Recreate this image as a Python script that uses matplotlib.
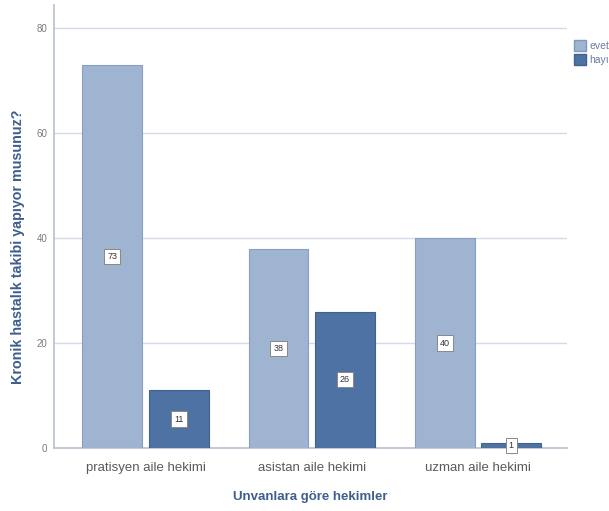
import matplotlib
matplotlib.use("Agg")
import matplotlib.pyplot as plt
import numpy as np
from matplotlib.patches import Patch

plt.rcParams['font.family'] = ['Liberation Sans', 'DejaVu Sans']

categories = ["pratisyen aile hekimi", "asistan aile hekimi", "uzman aile hekimi"]
evet = [73, 38, 40]
hayir = [11, 26, 1]
series_names = ["evet", "hayır"]
yticks = [0, 20, 40, 60, 80]

c_evet = "#9fb4d1"
c_hayir = "#4d72a3"
txt_blue = "#3d5f8c"

fig = plt.figure(figsize=(6.09, 5.11), dpi=100)
ax = fig.add_axes([0.0887, 0.1233, 0.8423, 0.8667])

x = np.arange(len(categories))
w = 0.36
off = 0.2
b1 = ax.bar(x - off, evet, w, color=c_evet, edgecolor="#879fc2", linewidth=0.8, zorder=3)
b2 = ax.bar(x + off, hayir, w, color=c_hayir, edgecolor="#3f6290", linewidth=0.8, zorder=3)

for bars in (b1, b2):
    for r in bars:
        h = r.get_height()
        ax.text(r.get_x() + r.get_width() / 2, h / 2, f"{int(h)}", ha="center", va="center",
                fontsize=6.5, color="#333333", zorder=5,
                bbox=dict(boxstyle="square,pad=0.35", fc="white", ec="#888888", lw=0.7))

ax.set_xlim(-0.55, 2.535)
ax.set_ylim(0, 84.4)
ax.set_yticks(yticks)
ax.set_xticks(x)
ax.set_xticklabels(categories, fontsize=9.5, color="#5a5a5a")
ax.tick_params(axis="y", labelsize=7, colors="#7a7a7a", length=0, pad=5)
ax.tick_params(axis="x", length=0, pad=10)
ax.grid(axis="y", color="#d5dbe6", linewidth=1, zorder=0)
ax.set_axisbelow(True)
for s in ["top", "right"]:
    ax.spines[s].set_visible(False)
ax.spines["left"].set_color("#b7c1d3")
ax.spines["bottom"].set_color("#b7c1d3")
ax.spines["left"].set_linewidth(1.2)
ax.spines["bottom"].set_linewidth(1.2)

ax.set_xlabel("Unvanlara göre hekimler", fontsize=9.5, fontweight="bold", color=txt_blue, labelpad=12)
fig.text(18 / 609, 1 - 247 / 511, "Kronik hastalık takibi yapıyor musunuz?", rotation=90,
         ha="center", va="center", fontsize=10.3, fontweight="bold", color=txt_blue)

handles = [Patch(facecolor=c_evet, edgecolor="#7f97bb", label=series_names[0]),
           Patch(facecolor=c_hayir, edgecolor="#3f6290", label=series_names[1])]
fig.legend(handles=handles, loc="upper left", bbox_to_anchor=(0.935, 0.93), frameon=False,
           fontsize=7.5, handlelength=1.2, handleheight=1.2, handletextpad=0.3, labelspacing=0.3,
           labelcolor="#6a7da0", borderaxespad=0)

fig.savefig("out.png", dpi=100)
